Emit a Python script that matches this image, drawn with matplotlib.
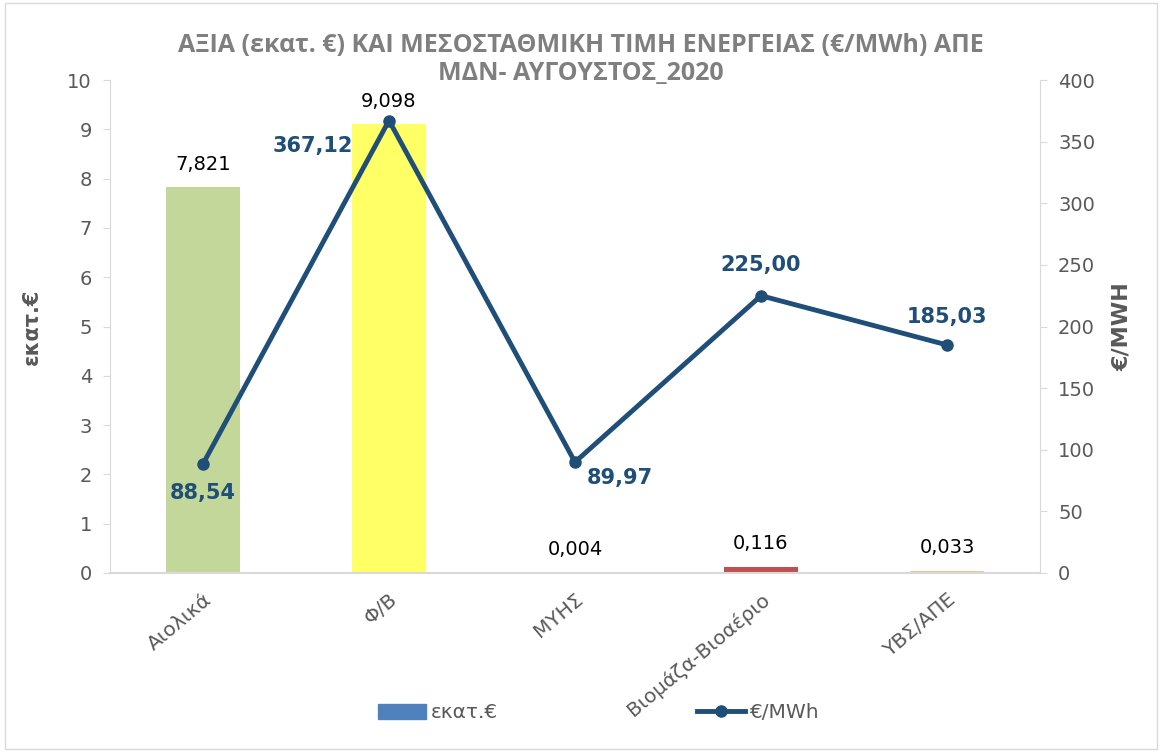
import matplotlib
matplotlib.use("Agg")
import matplotlib.pyplot as plt
from matplotlib.lines import Line2D
from matplotlib.patches import Patch

categories = ["Αιολικά", "Φ/Β", "ΜΥΗΣ", "Βιομάζα-Βιοαέριο", "ΥΒΣ/ΑΠΕ"]
value_meur = [7.821, 9.098, 0.004, 0.116, 0.033]
price_eur_mwh = [88.54, 367.12, 89.97, 225.00, 185.03]
bar_colors = ["#C4D79B", "#FFFF66", "#4F81BD", "#C0504D", "#FAC090"]
line_color = "#1F4E79"
legend_bar_color = "#4F81BD"

plt.rcParams['font.family'] = ['DejaVu Sans']

fig = plt.figure(figsize=(11.62, 7.52), dpi=100)
ax = fig.add_axes([110/1162, 1-573/752, 930/1162, 493/752])
x = list(range(len(categories)))
ax.bar(x, value_meur, width=0.4, color=bar_colors, zorder=2)
ax.set_xlim(-0.5, 4.5)
ax.set_ylim(0, 10)
ax.set_yticks(range(0, 11))
ax.set_xticks(x)
ax.set_xticklabels(categories, rotation=40, ha="right", rotation_mode="anchor",
                   fontsize=14.5, color="#595959")
ax.tick_params(axis="x", length=0, pad=12)
ax.tick_params(axis="y", labelsize=14, labelcolor="#595959", color="#D9D9D9", length=5, pad=8)
for s in ["top", "right"]:
    ax.spines[s].set_visible(False)
ax.spines["left"].set_color("#D9D9D9")
ax.spines["bottom"].set_color("#D9D9D9")
ax.spines["bottom"].set_linewidth(1.5)
ax.set_ylabel("εκατ.€", fontsize=15, fontweight="bold", color="#595959", labelpad=18)

for xi, v in zip(x, value_meur):
    ax.annotate(f"{v:.3f}".replace(".", ","), (xi, v), xytext=(0, 10),
                textcoords="offset points", ha="center", va="bottom",
                fontsize=14, color="#000000")

ax2 = ax.twinx()
ax2.set_ylim(0, 400)
ax2.set_yticks(range(0, 401, 50))
ax2.plot(x, price_eur_mwh, color=line_color, lw=3.5, marker="o", ms=8, zorder=3)
for s in ["top", "left", "bottom"]:
    ax2.spines[s].set_visible(False)
ax2.spines["right"].set_color("#D9D9D9")
ax2.tick_params(axis="y", labelsize=14, labelcolor="#595959", color="#D9D9D9", length=5, pad=8)
ax2.set_ylabel("€/MWH", fontsize=16, fontweight="bold", color="#595959", labelpad=12)

offsets = [(0, -21, "center"), (-26, -18, "right"),
           (32, -11.5, "center"), (0, 22, "center"), (0, 20, "center")]
for xi, p, (dx, dy, ha) in zip(x, price_eur_mwh, offsets):
    ax2.annotate(f"{p:.2f}".replace(".", ","), (xi, p), xytext=(dx, dy),
                 textcoords="offset points", ha=ha, va="center",
                 fontsize=15, fontweight="bold", color=line_color)
ax.set_zorder(1)
ax2.set_zorder(2)
ax.patch.set_visible(False)

title_font = ['Open Sans', 'DejaVu Sans']
fig.text(0.5, 1-45/752, "ΑΞΙΑ (εκατ. €) ΚΑΙ ΜΕΣΟΣΤΑΘΜΙΚΗ ΤΙΜΗ ΕΝΕΡΓΕΙΑΣ (€/MWh) ΑΠΕ",
         ha="center", va="center", fontsize=18, fontweight="bold", color="#7F7F7F",
         family=title_font)
fig.text(0.5, 1-74/752, "ΜΔΝ- ΑΥΓΟΥΣΤΟΣ_2020",
         ha="center", va="center", fontsize=18, fontweight="bold", color="#7F7F7F",
         family=title_font)

handles = [Patch(color=legend_bar_color, label="εκατ.€"),
           Line2D([0], [0], color=line_color, lw=3.5, marker="o", ms=8, label="€/MWh")]
fig.legend(handles=handles, loc="center", bbox_to_anchor=(0.515, 1-713/752), ncol=2,
           frameon=False, fontsize=14.5, labelcolor="#595959", columnspacing=9.9,
           handlelength=2.4, handletextpad=0.2)

border = plt.Rectangle((0.004, 0.004), 0.992, 0.992, transform=fig.transFigure,
                       fill=False, edgecolor="#D9D9D9", lw=1)
fig.patches.append(border)

fig.savefig("out.png", dpi=100)
